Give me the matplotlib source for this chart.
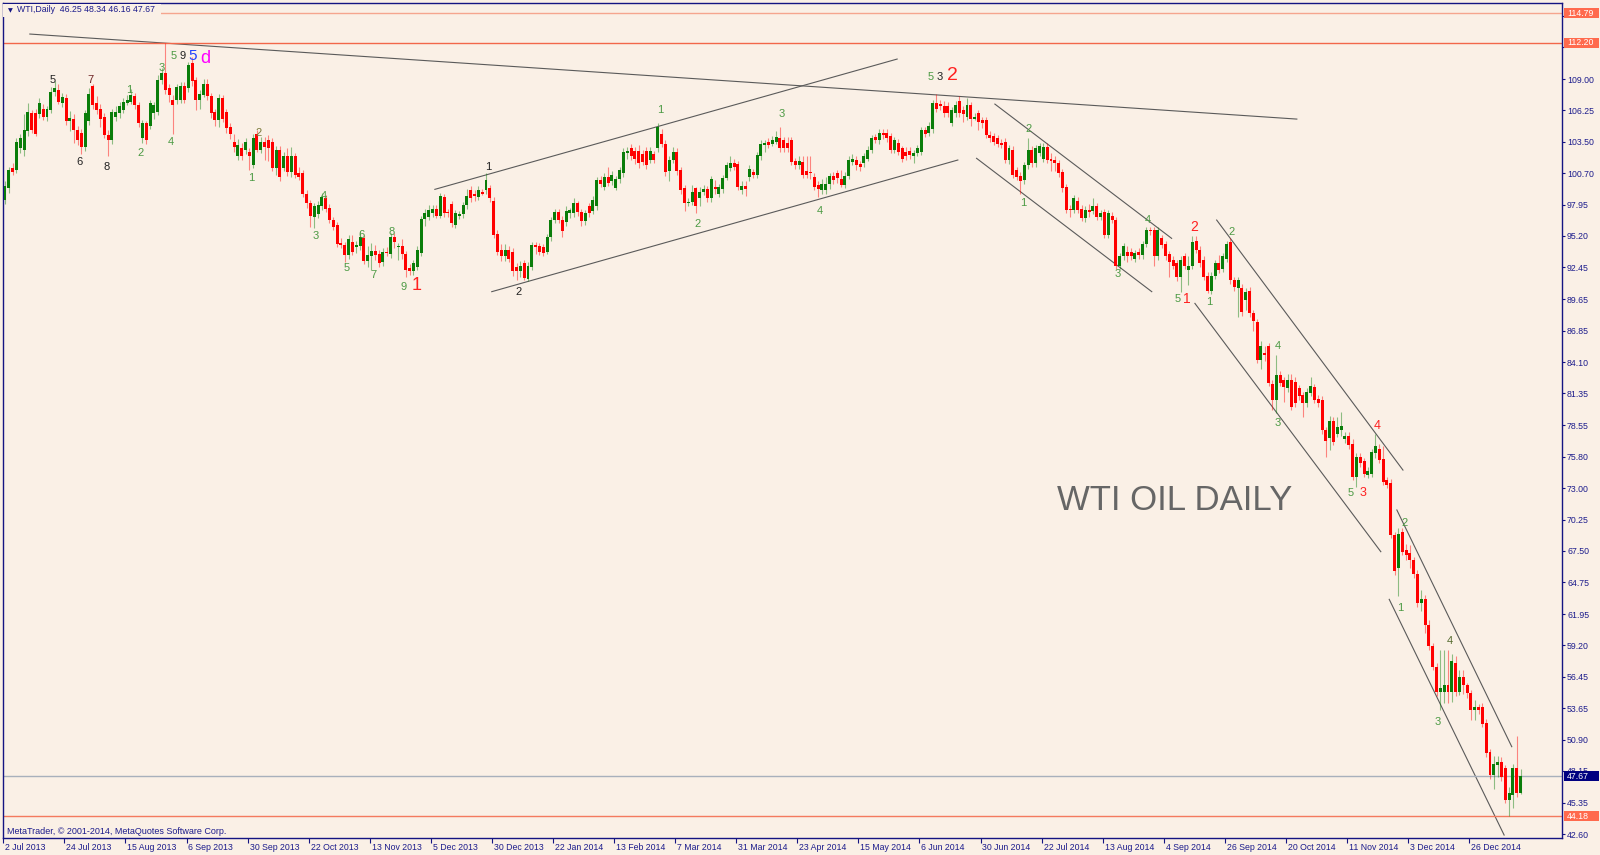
import matplotlib
matplotlib.use('Agg')
import matplotlib.pyplot as plt
import matplotlib.transforms as mtransforms
from matplotlib.patches import Rectangle
import numpy as np

plt.rcParams['font.family'] = ['Liberation Sans', 'DejaVu Sans']

# WTI diario, OHLC (2 Jul 2013 .. Jan 2015)
opens = [
    98.4, 99.4, 101.2, 101.0, 102.9, 102.8, 104.4, 106.0, 106.0, 105.9,
    106.4, 105.7, 106.3, 107.9, 108.0, 106.9, 107.3, 105.3, 105.5, 104.5,
    104.3, 103.0, 105.3, 108.4, 106.9, 106.4, 105.7, 104.1, 103.6, 105.7,
    106.0, 106.3, 106.9, 107.0, 107.5, 106.7, 103.8, 105.1, 104.9, 106.0,
    106.1, 108.9, 109.5, 108.2, 107.2, 107.2, 107.2, 108.4, 108.2, 110.4,
    108.9, 107.2, 107.6, 108.6, 107.5, 106.1, 105.4, 107.3, 106.1, 104.8,
    103.5, 102.2, 102.9, 102.8, 102.6, 101.4, 104.2, 102.8, 103.5, 103.6,
    103.5, 101.2, 102.8, 101.2, 102.2, 100.8, 102.2, 100.7, 100.7, 98.9,
    98.1, 96.9, 97.1, 97.8, 98.5, 97.7, 96.6, 96.2, 94.6, 94.4,
    93.5, 94.7, 94.2, 94.3, 95.0, 93.0, 93.4, 93.9, 93.6, 92.9,
    93.8, 93.6, 95.1, 94.2, 94.3, 93.6, 92.4, 92.1, 92.5, 93.7,
    96.7, 96.9, 97.2, 97.6, 97.0, 98.6, 97.3, 98.0, 96.2, 97.0,
    97.1, 97.9, 99.2, 98.9, 98.6, 99.1, 99.2, 99.4, 98.3, 95.4,
    94.0, 93.4, 94.0, 93.8, 92.5, 92.1, 92.8, 91.4, 92.5, 94.4,
    94.3, 94.2, 93.8, 95.1, 96.6, 97.3, 96.6, 96.4, 97.2, 97.2,
    98.1, 97.3, 96.5, 97.8, 97.4, 97.8, 100.1, 99.5, 100.4, 100.0,
    99.4, 100.2, 100.7, 102.5, 102.9, 102.7, 102.7, 102.4, 102.7, 101.9,
    102.4, 102.9, 104.2, 103.3, 100.9, 101.9, 102.6, 101.0, 99.4, 98.1,
    98.2, 99.4, 98.5, 99.1, 99.3, 98.5, 99.5, 98.9, 99.3, 100.3,
    101.2, 101.6, 101.5, 99.2, 99.6, 100.4, 100.8, 100.6, 102.2, 103.2,
    103.5, 103.3, 103.5, 103.8, 103.6, 103.4, 103.6, 101.8, 101.4, 101.7,
    100.9, 100.8, 100.4, 99.7, 99.2, 99.2, 99.8, 100.5, 100.7, 100.2,
    99.7, 100.5, 101.7, 101.9, 101.5, 101.6, 102.0, 102.8, 103.9, 103.6,
    104.3, 104.3, 104.0, 102.8, 103.4, 102.9, 102.6, 102.7, 102.2, 102.5,
    102.6, 104.5, 104.3, 104.6, 106.9, 106.8, 106.6, 106.6, 105.1, 106.0,
    107.1, 106.3, 105.7, 106.7, 105.5, 106.0, 105.4, 105.4, 104.1, 104.0,
    103.8, 103.4, 103.5, 101.9, 102.8, 101.0, 100.5, 100.1, 101.4, 102.8,
    101.6, 102.5, 102.0, 103.0, 102.0, 101.9, 101.6, 100.8, 99.5, 97.6,
    97.5, 98.3, 97.6, 96.8, 97.5, 97.4, 97.8, 96.9, 97.3, 95.3,
    97.0, 96.6, 92.6, 93.4, 93.8, 93.8, 93.2, 93.8, 93.5, 94.5,
    95.7, 95.7, 93.4, 95.0, 94.5, 93.6, 93.1, 92.8, 91.6, 93.4,
    92.2, 92.6, 94.8, 94.0, 93.1, 91.7, 90.4, 91.7, 92.8, 92.3,
    93.2, 94.7, 91.3, 90.6, 90.6, 89.6, 90.4, 88.4, 87.6, 84.3,
    84.9, 85.5, 82.2, 80.8, 83.0, 82.5, 81.8, 82.5, 82.4, 81.8,
    81.2, 80.5, 81.4, 81.9, 80.9, 80.8, 78.1, 77.4, 78.9, 77.8,
    78.1, 77.3, 77.6, 76.9, 74.0, 75.8, 75.4, 74.2, 74.3, 76.1,
    76.5, 75.6, 73.7, 73.5, 68.9, 66.0, 69.2, 67.6, 67.3, 66.7,
    65.5, 62.9, 63.3, 61.0, 59.1, 57.3, 55.1, 55.1, 55.7, 55.1,
    57.6, 55.1, 56.4, 55.7, 55.0, 53.5, 53.8, 53.8, 52.4, 49.8,
    47.8, 48.7, 48.9, 48.4, 45.6, 46.0, 48.4, 46.25,
]
highs = [
    100.0, 101.3, 101.6, 103.8, 104.2, 105.9, 106.9, 106.3, 106.4, 107.3,
    106.8, 106.6, 108.3, 108.8, 108.6, 107.8, 107.7, 106.2, 105.9, 104.9,
    104.6, 106.3, 108.2, 108.6, 107.5, 106.8, 106.0, 104.5, 106.4, 106.6,
    107.0, 107.3, 107.6, 108.1, 107.8, 107.0, 105.4, 105.3, 107.2, 107.0,
    109.4, 110.0, 112.2, 108.6, 107.6, 108.6, 108.7, 108.7, 110.5, 110.9,
    109.2, 108.0, 109.0, 109.0, 107.8, 106.4, 107.7, 107.6, 106.4, 105.1,
    104.2, 103.7, 103.4, 103.8, 102.9, 104.2, 104.5, 103.9, 103.9, 104.1,
    103.8, 103.1, 103.1, 102.6, 102.9, 103.0, 102.5, 101.3, 101.0, 99.2,
    98.4, 98.1, 98.3, 99.0, 98.8, 98.0, 96.9, 96.4, 95.0, 94.7,
    95.3, 95.3, 94.8, 95.6, 95.3, 94.3, 94.6, 94.4, 94.0, 94.1,
    94.2, 95.5, 95.5, 94.6, 94.9, 93.9, 92.7, 93.1, 94.3, 97.0,
    97.6, 97.9, 97.9, 97.9, 99.0, 98.9, 97.6, 98.3, 97.5, 97.4,
    98.2, 99.3, 99.6, 99.2, 99.6, 99.3, 100.7, 99.7, 98.6, 95.7,
    94.5, 94.5, 94.3, 94.1, 92.8, 93.0, 93.1, 92.9, 94.7, 94.7,
    94.6, 94.5, 95.4, 96.9, 97.6, 97.6, 97.0, 97.8, 97.7, 98.5,
    98.3, 97.6, 97.5, 98.1, 98.7, 100.4, 100.5, 100.7, 101.3, 100.9,
    100.5, 101.3, 102.9, 103.0, 103.3, 103.0, 103.2, 102.8, 103.0, 103.0,
    102.7, 105.1, 104.6, 103.6, 102.2, 103.0, 102.9, 101.3, 99.7, 98.5,
    99.7, 99.5, 99.5, 99.7, 99.6, 100.5, 100.1, 99.8, 100.6, 101.7,
    102.2, 102.0, 101.8, 100.0, 100.0, 101.4, 101.1, 102.6, 103.6, 103.6,
    103.8, 104.0, 104.4, 104.8, 103.9, 103.9, 103.9, 102.1, 102.2, 102.2,
    102.2, 102.2, 100.7, 100.0, 100.2, 100.4, 100.7, 100.8, 101.0, 101.0,
    100.8, 102.2, 102.4, 102.2, 101.8, 102.5, 103.1, 104.1, 104.2, 104.6,
    104.6, 104.6, 104.3, 103.9, 103.7, 103.1, 103.0, 103.0, 102.8, 103.2,
    104.8, 104.8, 105.2, 107.2, 107.7, 107.2, 107.1, 107.0, 106.5, 107.1,
    107.5, 106.6, 107.3, 107.0, 106.0, 106.3, 105.7, 105.7, 104.4, 104.3,
    104.1, 103.7, 103.8, 103.2, 103.1, 101.3, 100.8, 101.7, 103.8, 103.1,
    103.2, 103.4, 103.4, 103.4, 102.5, 102.2, 101.9, 101.1, 99.8, 97.9,
    98.8, 98.6, 97.9, 97.8, 98.0, 98.5, 98.1, 97.5, 97.6, 97.5,
    97.3, 96.9, 93.7, 94.6, 94.3, 94.1, 94.0, 94.1, 94.8, 96.0,
    96.0, 96.0, 96.0, 95.3, 94.8, 93.9, 93.4, 93.1, 93.4, 93.7,
    93.4, 95.2, 95.2, 94.3, 93.4, 92.0, 92.0, 93.1, 93.5, 93.7,
    94.8, 95.0, 91.6, 91.6, 91.0, 90.6, 90.7, 88.7, 87.9, 86.0,
    85.5, 85.8, 82.5, 84.7, 83.3, 82.8, 83.1, 83.1, 82.8, 82.1,
    81.5, 81.8, 82.8, 82.2, 81.2, 81.1, 78.4, 79.4, 79.3, 79.3,
    79.7, 78.0, 78.0, 77.3, 76.1, 76.1, 75.7, 74.9, 76.5, 77.8,
    76.9, 76.7, 74.0, 73.8, 69.2, 69.5, 69.5, 68.1, 68.0, 67.0,
    65.8, 64.1, 63.6, 61.4, 59.4, 57.6, 58.8, 58.8, 58.8, 58.4,
    58.3, 57.0, 57.0, 55.9, 55.3, 54.4, 54.0, 54.1, 52.7, 50.1,
    49.5, 49.5, 49.4, 48.7, 46.7, 48.8, 51.2, 48.34,
]
lows = [
    98.0, 99.0, 100.6, 100.7, 102.5, 102.2, 104.0, 104.3, 104.0, 105.6,
    105.4, 105.3, 106.0, 107.5, 106.8, 106.5, 105.0, 104.4, 103.4, 103.2,
    102.4, 102.7, 105.0, 106.4, 105.9, 104.8, 103.8, 102.2, 103.3, 105.3,
    105.6, 106.0, 106.7, 106.8, 106.4, 104.8, 103.4, 103.3, 104.6, 105.5,
    105.8, 108.6, 107.7, 107.0, 104.2, 106.8, 106.9, 106.9, 107.9, 108.4,
    106.3, 106.4, 107.4, 107.2, 105.6, 104.9, 104.8, 105.2, 104.3, 103.7,
    102.6, 101.9, 101.9, 102.4, 101.0, 101.2, 102.6, 102.5, 101.9, 101.8,
    100.9, 100.6, 100.0, 100.9, 100.5, 100.4, 100.3, 100.1, 98.6, 97.7,
    96.0, 95.9, 96.8, 97.5, 97.3, 96.3, 95.7, 94.2, 94.1, 92.9,
    93.2, 93.5, 93.7, 94.0, 92.7, 92.5, 92.2, 93.1, 92.5, 92.6,
    93.4, 93.3, 94.1, 93.1, 93.2, 91.6, 91.8, 91.8, 92.2, 93.4,
    96.1, 96.6, 96.9, 96.8, 96.8, 96.9, 96.9, 96.0, 95.9, 96.7,
    96.8, 97.6, 98.2, 98.3, 98.4, 98.8, 98.9, 98.2, 95.0, 93.5,
    93.0, 93.0, 92.9, 91.7, 91.3, 91.6, 91.3, 91.2, 92.2, 93.6,
    93.5, 93.4, 93.6, 94.8, 96.3, 96.3, 95.1, 96.1, 96.8, 96.9,
    97.0, 96.1, 96.2, 96.9, 97.1, 97.5, 99.5, 99.2, 99.6, 99.7,
    99.2, 99.9, 100.4, 102.0, 101.9, 101.5, 101.2, 101.4, 101.1, 101.6,
    101.6, 102.6, 103.0, 100.5, 100.0, 101.6, 100.6, 98.9, 97.4, 97.8,
    97.9, 97.2, 97.8, 98.8, 98.2, 98.2, 98.9, 98.6, 99.0, 100.1,
    100.9, 101.0, 99.2, 98.9, 98.7, 100.0, 100.3, 100.3, 101.9, 102.6,
    102.9, 103.1, 103.3, 102.6, 102.6, 102.6, 101.4, 101.1, 101.1, 100.3,
    100.3, 100.2, 99.2, 98.6, 98.9, 98.9, 99.3, 99.8, 99.9, 99.5,
    99.4, 100.2, 101.4, 101.0, 100.9, 101.3, 101.8, 102.5, 103.4, 103.3,
    103.7, 103.5, 102.5, 102.5, 102.3, 101.7, 101.9, 102.0, 101.6, 102.2,
    102.3, 103.9, 104.0, 104.3, 106.1, 106.3, 105.7, 105.7, 104.9, 105.7,
    105.7, 105.2, 105.4, 104.9, 105.4, 104.5, 104.7, 103.8, 103.5, 103.2,
    103.0, 102.9, 101.6, 101.5, 100.3, 100.1, 98.9, 99.8, 101.1, 101.3,
    101.3, 102.2, 101.7, 101.6, 100.9, 100.9, 100.4, 99.1, 97.2, 96.9,
    97.2, 97.2, 96.5, 96.4, 96.9, 97.1, 96.6, 96.6, 95.0, 95.0,
    96.3, 92.3, 92.3, 93.1, 92.9, 93.1, 92.9, 93.2, 93.2, 94.2,
    95.3, 92.6, 93.1, 94.1, 93.1, 91.6, 92.3, 91.2, 90.3, 92.3,
    90.9, 92.3, 93.7, 92.5, 91.3, 90.2, 90.1, 91.4, 91.9, 92.0,
    92.9, 91.0, 90.4, 88.1, 88.2, 88.7, 88.1, 86.8, 84.0, 83.5,
    84.2, 82.0, 79.9, 79.6, 82.0, 80.6, 81.5, 79.9, 80.2, 80.8,
    79.3, 80.2, 81.1, 80.5, 80.2, 77.8, 75.8, 76.4, 76.8, 77.5,
    77.6, 77.0, 76.5, 73.7, 73.1, 74.9, 74.0, 73.9, 74.0, 75.7,
    75.2, 73.3, 73.0, 68.6, 65.4, 63.5, 67.1, 66.7, 66.0, 65.1,
    62.6, 62.2, 60.3, 58.8, 57.0, 54.7, 53.5, 54.1, 54.1, 54.2,
    54.7, 54.8, 54.9, 54.6, 52.6, 52.6, 53.2, 52.0, 49.4, 47.4,
    46.6, 47.6, 47.3, 45.3, 44.2, 44.9, 45.9, 46.16,
]
closes = [
    99.6, 101.0, 100.8, 103.5, 103.8, 104.5, 106.1, 104.5, 104.2, 106.9,
    105.7, 106.4, 107.9, 108.2, 107.0, 107.4, 105.3, 105.6, 104.5, 103.6,
    103.0, 106.0, 107.7, 106.7, 106.3, 105.5, 104.1, 103.6, 106.1, 106.1,
    106.6, 107.0, 107.2, 107.6, 106.7, 105.1, 105.1, 103.6, 106.9, 106.7,
    108.9, 109.5, 108.0, 107.6, 106.7, 108.3, 108.4, 107.2, 110.2, 108.8,
    107.2, 107.7, 108.6, 107.5, 106.0, 105.4, 107.3, 105.5, 104.7, 104.2,
    103.0, 103.2, 102.2, 103.5, 102.2, 103.8, 102.8, 103.5, 103.0, 102.9,
    101.2, 102.8, 100.4, 102.2, 100.8, 102.2, 100.6, 100.4, 98.9, 98.1,
    97.0, 97.8, 97.9, 98.6, 97.6, 96.6, 96.0, 94.5, 94.4, 93.5,
    94.9, 93.8, 94.4, 95.1, 93.0, 93.5, 93.9, 93.5, 92.8, 93.8,
    93.7, 95.1, 94.7, 94.3, 93.6, 92.2, 92.1, 92.8, 94.0, 96.7,
    97.2, 97.5, 97.6, 97.0, 98.7, 97.2, 97.2, 96.3, 97.2, 97.1,
    97.9, 98.7, 98.5, 98.7, 99.2, 98.9, 100.1, 98.5, 95.3, 93.8,
    93.4, 94.0, 93.2, 92.1, 92.1, 92.6, 91.5, 92.6, 94.4, 94.2,
    93.8, 93.7, 95.1, 96.6, 97.3, 96.6, 95.6, 97.4, 97.5, 98.1,
    97.3, 96.5, 97.2, 97.2, 98.4, 100.1, 99.8, 100.4, 99.9, 100.6,
    100.2, 101.0, 102.6, 102.7, 102.2, 102.0, 101.6, 101.7, 101.4, 102.7,
    101.9, 104.8, 103.3, 100.8, 101.9, 102.6, 100.9, 99.2, 98.1, 98.2,
    99.1, 97.8, 99.1, 99.3, 98.5, 100.2, 99.3, 99.5, 100.3, 101.4,
    101.6, 101.3, 99.5, 99.6, 99.3, 101.1, 100.6, 102.3, 103.3, 103.4,
    103.2, 103.6, 103.9, 102.9, 102.9, 102.9, 101.7, 101.4, 101.8, 100.6,
    100.6, 100.7, 99.5, 99.3, 99.8, 99.8, 100.5, 100.1, 100.3, 99.7,
    100.5, 101.9, 102.0, 101.4, 101.3, 102.2, 102.8, 103.8, 103.6, 104.3,
    104.1, 103.8, 102.8, 103.6, 102.6, 102.0, 102.2, 102.3, 102.5, 102.9,
    104.5, 104.2, 104.9, 106.9, 106.4, 106.6, 106.0, 106.0, 106.3, 106.7,
    106.0, 105.9, 106.7, 105.5, 105.7, 105.2, 105.1, 104.1, 103.8, 103.5,
    103.3, 103.2, 101.9, 102.9, 100.6, 100.4, 100.0, 101.4, 102.8, 101.6,
    102.9, 103.1, 103.0, 101.9, 101.8, 101.6, 100.7, 99.4, 97.5, 97.5,
    98.5, 97.5, 96.8, 97.5, 97.3, 97.8, 96.9, 97.2, 95.3, 97.2,
    96.6, 92.6, 93.4, 94.3, 93.4, 93.4, 93.7, 93.5, 94.5, 95.7,
    95.6, 93.4, 95.7, 94.4, 93.4, 92.9, 92.6, 91.6, 93.1, 92.6,
    92.6, 94.7, 94.0, 92.8, 91.6, 90.4, 91.7, 92.8, 92.2, 93.4,
    94.5, 91.3, 90.7, 91.3, 88.5, 90.3, 88.4, 87.7, 84.3, 85.5,
    84.7, 82.3, 80.8, 83.0, 82.3, 81.9, 82.5, 80.2, 80.5, 81.1,
    80.5, 81.5, 82.0, 80.8, 80.5, 78.1, 77.2, 78.9, 77.1, 78.4,
    78.5, 77.6, 76.8, 74.0, 75.8, 75.2, 74.3, 74.5, 76.2, 76.7,
    75.5, 73.6, 73.3, 68.9, 65.7, 69.0, 67.4, 67.1, 66.7, 65.5,
    62.9, 63.3, 61.0, 59.1, 57.3, 55.1, 55.4, 55.7, 55.1, 57.8,
    55.1, 56.4, 55.7, 55.0, 53.5, 53.8, 53.5, 52.3, 49.7, 47.8,
    48.8, 48.9, 47.6, 45.6, 46.2, 48.4, 46.2, 47.67,
]

# rotulos do eixo de datas (um a cada 16 barras)
date_labels = ['2 Jul 2013', '24 Jul 2013', '15 Aug 2013', '6 Sep 2013', '30 Sep 2013',
               '22 Oct 2013', '13 Nov 2013', '5 Dec 2013', '30 Dec 2013', '22 Jan 2014',
               '13 Feb 2014', '7 Mar 2014', '31 Mar 2014', '23 Apr 2014', '15 May 2014',
               '6 Jun 2014', '30 Jun 2014', '22 Jul 2014', '13 Aug 2014', '4 Sep 2014',
               '26 Sep 2014', '20 Oct 2014', '11 Nov 2014', '3 Dec 2014', '26 Dec 2014']
date_step = 16

# escala de precos (lado direito); as duas do topo ficam atras das caixas
price_ticks = ['42.60', '45.35', '48.15', '50.90', '53.65', '56.45', '59.20', '61.95',
               '64.75', '67.50', '70.25', '73.00', '75.80', '78.55', '81.35', '84.10',
               '86.85', '89.65', '92.45', '95.20', '97.95', '100.70', '103.50', '106.25',
               '109.00', '111.80', '114.55']
hidden_ticks = ['111.80', '114.55']

# linhas horizontais: (preco, cor da linha, cor da caixa)
hlines = [(114.79, '#f5a58e', '#ff6a4d'),
          (112.20, '#f2674a', '#ff6a4d'),
          (47.67, '#a8b0bc', '#000080'),
          (44.18, '#f47a5e', '#ff6a4d')]

# linhas de tendencia (barra, preco) -> (barra, preco)
trendlines = [(6.5, 112.96, 338.4, 105.48),
              (112.6, 99.30, 233.7, 110.76),
              (127.5, 90.30, 249.6, 101.88),
              (259.3, 106.80, 305.6, 94.99),
              (254.5, 102.03, 300.4, 90.30),
              (317.4, 96.60, 366.2, 74.61),
              (311.7, 89.27, 360.4, 67.43),
              (364.6, 71.10, 394.7, 50.28),
              (362.6, 63.24, 392.7, 42.51)]

# contagem de ondas: (barra, preco, texto, cor, tamanho)
G = '#4c9a44'
K = '#222222'
R = '#ff2020'
wave_labels = [
    (12.6, 108.91, '5', K, 8), (22.5, 108.91, '7', '#6e2424', 8), (32.5, 108.03, '1', G, 8),
    (19.4, 101.70, '6', K, 8), (26.5, 101.26, '8', K, 8), (35.4, 102.49, '2', G, 8),
    (43.5, 103.46, '4', G, 8), (41.1, 109.97, '3', G, 8), (44.3, 111.02, '5', G, 8),
    (46.6, 111.02, '9', K, 8), (49.2, 111.02, '5', '#1f3fff', 11),
    (52.4, 110.85, 'd', '#ff00ff', 13),
    (66.3, 104.25, '2', '#7a7a3a', 8), (64.4, 100.30, '1', G, 8), (81.5, 95.20, '3', G, 8),
    (83.6, 98.71, '4', G, 8), (89.6, 92.38, '5', G, 8), (93.5, 95.28, '6', G, 8),
    (96.4, 91.76, '7', G, 8), (101.4, 95.55, '8', G, 8), (104.5, 90.71, '9', G, 8),
    (107.7, 90.80, '1', R, 13),
    (126.5, 101.26, '1', K, 8), (134.4, 90.27, '2', K, 8),
    (171.6, 106.28, '1', G, 8), (181.5, 96.25, '2', G, 8), (203.5, 105.92, '3', G, 8),
    (213.5, 97.39, '4', G, 8), (242.6, 109.18, '5', G, 8), (244.9, 109.18, '3', K, 8),
    (248.3, 109.27, '2', R, 14),
    (268.2, 104.60, '2', G, 8), (266.7, 98.10, '1', G, 8), (291.6, 91.85, '3', G, 8),
    (299.4, 96.60, '4', G, 8), (311.5, 95.99, '2', R, 10),
    (307.3, 89.65, '5', G, 8), (309.6, 89.65, '1', R, 10), (315.4, 89.39, '1', G, 8),
    (321.4, 95.55, '2', G, 8), (333.5, 85.52, '4', G, 8), (333.5, 78.75, '3', G, 8),
    (352.6, 72.59, '5', G, 8), (355.7, 72.59, '3', R, 9), (359.4, 78.48, '4', R, 9),
    (366.5, 69.95, '2', G, 8), (365.4, 62.48, '1', G, 8), (378.5, 59.57, '4', '#556b2f', 8),
    (375.4, 52.45, '3', G, 8),
]

BG = '#faf0e6'
NAVY = '#141482'
TXT = '#1c1c8c'

W, H = 1600, 855
fig = plt.figure(figsize=(W / 100, H / 100), dpi=100, facecolor=BG)
# area do grafico: x 3..1562 px, y 3..838 px
ax = fig.add_axes([3 / W, (H - 838) / H, 1559 / W, 835 / H], facecolor=BG)

o = np.array(opens)
h = np.array(highs)
l = np.array(lows)
c = np.array(closes)
n = min(len(o), len(h), len(l), len(c))
o, h, l, c = o[:n], h[:n], l[:n], c[:n]
x = np.arange(n)
up = c >= o

# pavios
ax.vlines(x[up], l[up], h[up], color='#0a7d0a', alpha=0.45, lw=0.8, zorder=3)
ax.vlines(x[~up], l[~up], h[~up], color='#ff0000', alpha=0.45, lw=0.8, zorder=3)
# corpos
base = np.minimum(o, c)
alt = np.maximum(np.abs(c - o), 0.09)
ax.bar(x[up], alt[up], 0.78, base[up], color='#0a7d0a', lw=0, zorder=4)
ax.bar(x[~up], alt[~up], 0.78, base[~up], color='#ff0000', lw=0, zorder=4)

# linhas de tendencia
for x0, y0, x1, y1 in trendlines:
    ax.plot([x0, x1], [y0, y1], color='#5a5a5a', lw=0.8, zorder=2)

# linhas horizontais + caixas de preco
trans_r = mtransforms.blended_transform_factory(ax.transAxes, ax.transData)
for preco, cor, cor_caixa in hlines:
    ax.axhline(preco, color=cor, lw=1.0, zorder=2)
    ax.add_patch(Rectangle((1 + 1.5 / 1559, preco - 0.44), 35 / 1559, 0.88,
                           transform=trans_r, facecolor=cor_caixa, edgecolor='none',
                           clip_on=False, zorder=6))
    ax.text(1 + 5 / 1559, preco, f'{preco:.2f}', transform=trans_r, ha='left',
            va='center', fontsize=6.3, color='white', clip_on=False, zorder=7)

# contagem de ondas
for bx, py, txt, cor, tam in wave_labels:
    ax.text(bx, py, txt, color=cor, fontsize=tam, ha='center', va='center', zorder=5)

ax.text(306.5, 71.1, 'WTI OIL DAILY', ha='center', va='baseline', fontsize=25,
        color='#666666', zorder=5)

# eixos
ax.set_xlim(-0.524, 407.86)
ax.set_ylim(42.25, 115.69)
for sp in ax.spines.values():
    sp.set_color(NAVY)
    sp.set_linewidth(1.0)

pos_y = [float(t) for t in price_ticks]
ax.set_yticks(pos_y)
ax.set_yticklabels(['' if t in hidden_ticks else t for t in price_ticks])
ax.yaxis.tick_right()
ax.tick_params(axis='y', direction='out', length=2.2, width=0.8, color=NAVY, pad=1.4,
               labelsize=6.3, labelcolor=TXT)

pos_x = [i * date_step - 0.45 for i in range(len(date_labels))]
ax.set_xticks(pos_x)
ax.set_xticklabels([])
ax.tick_params(axis='x', direction='out', length=3.6, width=0.8, color=NAVY)
trans_b = mtransforms.blended_transform_factory(ax.transData, ax.transAxes)
for px, lab in zip(pos_x, date_labels):
    ax.text(px + 0.5, -9 / 835, lab, transform=trans_b, ha='left', va='center',
            fontsize=6.3, color=TXT, clip_on=False)

# cabecalho
fig.patches.append(Rectangle((3 / W, 1 - 17 / H), 158 / W, 13 / H, transform=fig.transFigure,
                             facecolor=BG, edgecolor='none', zorder=2))
fig.text(7.5 / W, 1 - 10.5 / H, '\u25bc', fontsize=4.5, color=NAVY, va='center',
         family='DejaVu Sans', zorder=3)
fig.text(17 / W, 1 - 10 / H, 'WTI,Daily  46.25 48.34 46.16 47.67', fontsize=6.3,
         color=TXT, va='center', zorder=3)
fig.text(7 / W, 1 - 831 / H, 'MetaTrader, \u00a9 2001-2014, MetaQuotes Software Corp.',
         fontsize=6.5, color=TXT, va='center', zorder=3)

fig.savefig('out.png', dpi=100, facecolor=BG)
